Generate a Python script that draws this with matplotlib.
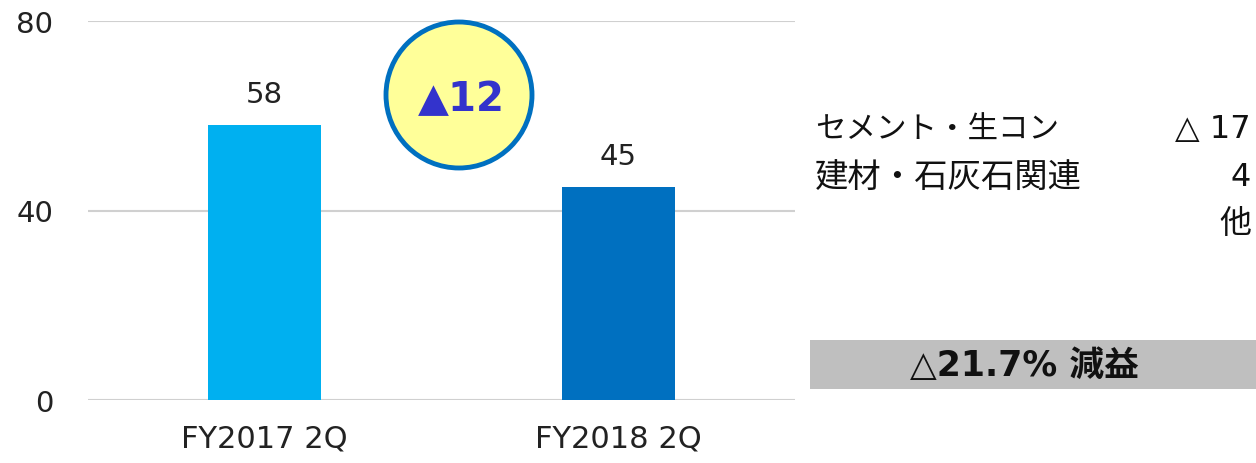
import matplotlib
matplotlib.use("Agg")
import matplotlib.pyplot as plt
from matplotlib.patches import Ellipse, Rectangle

# data
periods = ["FY2017 2Q", "FY2018 2Q"]
profit = [58, 45]
bar_colors = ["#00B0F0", "#0070C0"]
yticks = [0, 40, 80]
change_label = "\u25b212"
seg_names = ["セメント・生コン", "建材・石灰石関連", ""]
seg_values = ["△ 17", "4", "他"]
summary = "△21.7% 減益"

jp = ["Noto Sans CJK JP", "DejaVu Sans"]
num = ["DejaVu Sans", "Noto Sans CJK JP"]

fig = plt.figure(figsize=(12.56, 4.64), dpi=100)
ax = fig.add_axes([88 / 1256, 1 - 401 / 464, 707 / 1256, 379 / 464])

x = range(len(periods))
ax.bar(x, profit, width=0.32, color=bar_colors, zorder=3)
for xi, v in zip(x, profit):
    ax.text(xi, v + 4.8, str(v), ha="center", va="baseline", fontsize=21, color="#222222")

ax.set_xlim(-0.5, 1.5)
ax.set_ylim(0, 80)
ax.set_yticks(yticks)
ax.set_xticks(list(x))
ax.set_xticklabels(periods, fontsize=22)
ax.tick_params(axis="y", labelsize=21, length=0, pad=25, labelcolor="#222222")
ax.tick_params(axis="x", length=0, pad=17, labelcolor="#222222")
ax.grid(axis="y", color="#D0D0D0", linewidth=1.5, zorder=0)
ax.set_axisbelow(True)
for s in ax.spines.values():
    s.set_visible(False)

# change bubble
fig.patches.append(Ellipse((459 / 1256, 1 - 96 / 464), 146 / 1256, 146 / 464,
                           transform=fig.transFigure, facecolor="#FFFF99",
                           edgecolor="#0070C0", linewidth=3.5, zorder=5))
fig.text(461 / 1256, 1 - 100 / 464, change_label, ha="center", va="center",
         fontsize=29, fontweight="bold", color="#3333CC", zorder=6)

# segment breakdown on the right
row_y = [130, 177, 224]
name_sizes = [22, 24, 24]
for name, val, yy, fs in zip(seg_names, seg_values, row_y, name_sizes):
    if name:
        fig.text(815 / 1256, 1 - yy / 464, name, ha="left", va="center",
                 fontsize=fs, family=jp, color="#111111")
    fig.text(1251 / 1256, 1 - yy / 464, val, ha="right", va="center",
             fontsize=23, family=num if val != "他" else jp, color="#111111")

fig.patches.append(Rectangle((810 / 1256, 1 - 390 / 464), 446 / 1256, 49 / 464,
                             transform=fig.transFigure, facecolor="#BFBFBF",
                             edgecolor="none"))
fig.text(1024 / 1256, 1 - 366 / 464, summary, ha="center", va="center",
         fontsize=25, fontweight="bold", family=num, color="#111111")

fig.savefig("out.png", dpi=100)
